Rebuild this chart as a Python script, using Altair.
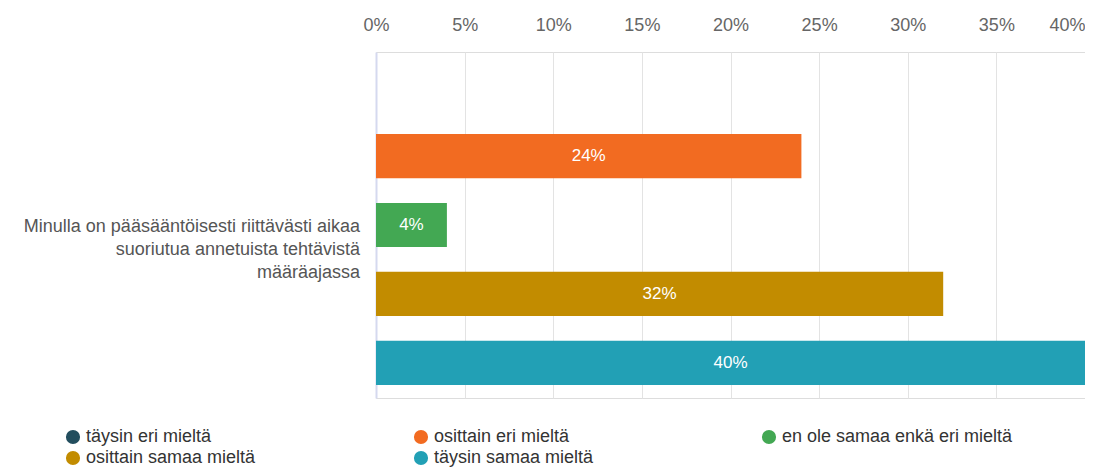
import altair as alt
import pandas as pd

categories = ["täysin eri mieltä", "osittain eri mieltä", "en ole samaa enkä eri mieltä",
              "osittain samaa mieltä", "täysin samaa mieltä"]
values = [0, 24, 4, 32, 40]
colors = ["#234e5e", "#f26b21", "#43a853", "#c28c00", "#22a0b5"]
question = ["Minulla on pääsääntöisesti riittävästi aikaa",
            "suoriutua annetuista tehtävistä", "määräajassa"]
ticks = [0, 5, 10, 15, 20, 25, 30, 35, 40]

df = pd.DataFrame({"vastaus": categories, "osuus": values})
df["label"] = df["osuus"].astype(str) + "%"

FONT = "Liberation Sans"

x = alt.X("osuus:Q", scale=alt.Scale(domain=[0, 40], nice=False),
          axis=alt.Axis(orient="top", values=ticks, labelExpr="datum.value + '%'",
                        title=None, domain=False, ticks=False, labelPadding=18,
                        labelFontSize=18, labelColor="#666666", labelFont=FONT,
                        gridColor="#e3e3e3", gridWidth=1,
                        labelAlign={"condition": {"test": "datum.value >= 40", "value": "right"},
                                    "value": "center"}))
y = alt.Y("vastaus:N", sort=categories,
          scale=alt.Scale(paddingInner=0.36, paddingOuter=0.19),
          axis=alt.Axis(labels=False, ticks=False, title=None, domain=True,
                        domainColor="#d5d9ef", domainWidth=2, grid=False))

bars = alt.Chart(df).mark_bar().encode(
    x=x, y=y,
    color=alt.Color("vastaus:N", sort=categories,
                    scale=alt.Scale(domain=categories, range=colors),
                    legend=alt.Legend(orient="none", legendX=-312, legendY=376, columns=3,
                                      direction="horizontal", gridAlign="all",
                                      title=None, symbolType="circle", symbolSize=200,
                                      symbolStrokeWidth=0, labelFontSize=18, labelFont=FONT,
                                      labelColor="#333333", columnPadding=95, rowPadding=3,
                                      labelLimit=400, symbolOpacity=1))
)

text = alt.Chart(df).transform_filter("datum.osuus > 0").transform_calculate(
    mid="datum.osuus / 2").mark_text(color="white", fontSize=17, font=FONT).encode(
    x="mid:Q", y=alt.Y("vastaus:N", sort=categories), text="label:N")

qdf = pd.DataFrame({"q": [question]})
qtext = alt.Chart(qdf).mark_text(align="right", baseline="middle", fontSize=18, font=FONT,
                                 color="#555555", lineHeight=23).encode(
    x=alt.value(-16), y=alt.value(175), text="q")

chart = alt.layer(bars, text, qtext).properties(
    width=709, height=346,
    autosize=alt.AutoSizeParams(type="none"),
    padding={"left": 368, "top": 44, "right": 0, "bottom": 70}
).configure_view(stroke=None).configure(background="white")

chart.save("out.html", embed_options={"renderer": "svg", "actions": False})
